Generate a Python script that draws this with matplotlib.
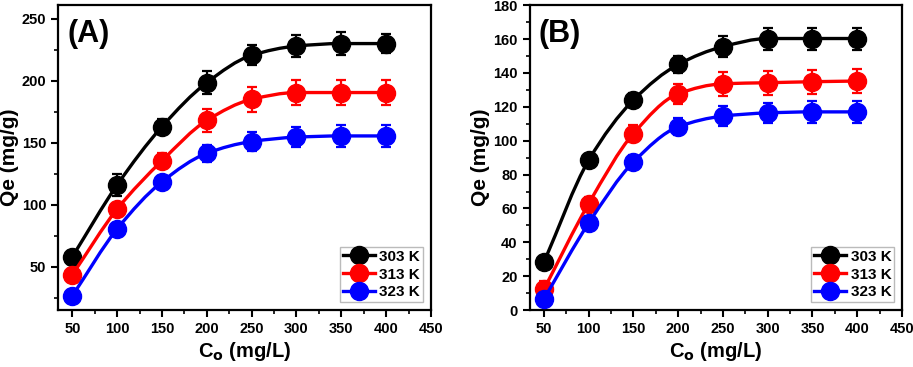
import matplotlib
matplotlib.use("Agg")
import matplotlib.pyplot as plt
import numpy as np
from matplotlib.lines import Line2D
from matplotlib.patches import PathPatch
from matplotlib.path import Path
from matplotlib.ticker import MultipleLocator

plt.rcParams["font.family"] = ["Liberation Sans", "DejaVu Sans"]
plt.rcParams["font.weight"] = "bold"

# -----------------------------
# Data
# -----------------------------

C0 = [50, 100, 150, 200, 250, 300, 350, 400]
TEMPS = ["303 K", "313 K", "323 K"]
COLORS = ["black", "red", "blue"]

QE_A_303 = [58, 116, 163, 198.5, 220.5, 228, 230, 230]
QE_A_313 = [43.5, 96.5, 135.5, 168, 185, 190.5, 190.5, 190.5]
QE_A_323 = [26.5, 80.5, 118.5, 141.5, 151, 154.5, 155.5, 155.5]
ERR_A_303 = [5, 9, 6, 9, 8, 9, 9, 8]
ERR_A_313 = [5, 4, 6, 9, 10, 10, 10, 10]
ERR_A_323 = [3, 5, 5, 7, 8, 8, 9, 9]

QE_B_303 = [28.2, 88.4, 124, 145, 155.5, 160.3, 160.3, 160.3]
QE_B_313 = [12.2, 62.8, 104.2, 127.7, 133.6, 134.2, 134.8, 135.2]
QE_B_323 = [6.5, 51.3, 87.4, 108.2, 114.5, 116.4, 117, 117]
ERR_B_303 = [2, 3, 4, 5, 6, 6.5, 6.5, 6.5]
ERR_B_313 = [5, 4, 5, 6, 7, 7, 7, 7]
ERR_B_323 = [3, 4, 4, 5, 6, 6, 6.5, 6.5]


def smooth_path(x, y):
    # monotone cubic (Fritsch-Carlson) drawn as Bezier segments
    x = np.asarray(x, float)
    y = np.asarray(y, float)
    h = np.diff(x)
    d = np.diff(y) / h
    m = np.zeros_like(y)
    m[0], m[-1] = d[0], d[-1]
    for i in range(1, len(x) - 1):
        if d[i - 1] * d[i] <= 0:
            m[i] = 0
        else:
            w1 = 2 * h[i] + h[i - 1]
            w2 = h[i] + 2 * h[i - 1]
            m[i] = (w1 + w2) / (w1 / d[i - 1] + w2 / d[i])
    verts = [(x[0], y[0])]
    codes = [Path.MOVETO]
    for i in range(len(x) - 1):
        verts += [(x[i] + h[i] / 3, y[i] + m[i] * h[i] / 3),
                  (x[i + 1] - h[i] / 3, y[i + 1] - m[i + 1] * h[i] / 3),
                  (x[i + 1], y[i + 1])]
        codes += [Path.CURVE4] * 3
    return Path(verts, codes)


def draw_panel(ax, series, errors, ylim, ymajor, yminor, label):
    for k, (qe, err, color) in enumerate(zip(series, errors, COLORS)):
        ax.add_patch(PathPatch(smooth_path(C0, qe), fill=False, edgecolor=color,
                               lw=2.4, zorder=2 + 2 * k))
        ax.errorbar(C0, qe, yerr=err, fmt="o", color=color, ms=13, ecolor=color,
                    elinewidth=1.6, capsize=3.5, capthick=1.6, zorder=3 + 2 * k)
    ax.set_xlim(34, 450)
    ax.set_ylim(*ylim)
    ax.xaxis.set_major_locator(MultipleLocator(50))
    ax.xaxis.set_minor_locator(MultipleLocator(25))
    ax.yaxis.set_major_locator(MultipleLocator(ymajor))
    ax.yaxis.set_minor_locator(MultipleLocator(yminor))
    ax.tick_params(which="major", direction="out", length=5, width=1.5, labelsize=10.5)
    ax.tick_params(which="minor", direction="out", length=3, width=1.2)
    for lab in ax.get_xticklabels() + ax.get_yticklabels():
        lab.set_fontweight("bold")
    for sp in ax.spines.values():
        sp.set_linewidth(1.6)
    ax.set_xlabel(r"C$_\mathbf{o}$ (mg/L)", fontsize=14.5, fontweight="bold", labelpad=3)
    ax.set_ylabel("Qe (mg/g)", fontsize=15, fontweight="bold", labelpad=2)
    ax.text(0.025, 0.955, label, transform=ax.transAxes, fontsize=22,
            fontweight="bold", va="top", ha="left")
    handles = [Line2D([], [], color=c, lw=2.4, marker="o", ms=13) for c in COLORS]
    leg = ax.legend(handles, TEMPS, loc="lower right", frameon=True,
                    fancybox=False, edgecolor="#aaaaaa", handlelength=2.1,
                    borderpad=0.2, labelspacing=0.25, handletextpad=0.3,
                    borderaxespad=0.5, prop={"weight": "bold", "size": 11})
    leg.get_frame().set_linewidth(1.0)


fig = plt.figure(figsize=(9.13, 3.67), dpi=100)
ax_a = fig.add_axes([0.0635, 0.155, 0.4085, 0.831])
ax_b = fig.add_axes([0.580, 0.155, 0.408, 0.831])

draw_panel(ax_a, [QE_A_303, QE_A_313, QE_A_323], [ERR_A_303, ERR_A_313, ERR_A_323],
           (15, 261), 50, 25, "(A)")
draw_panel(ax_b, [QE_B_303, QE_B_313, QE_B_323], [ERR_B_303, ERR_B_313, ERR_B_323],
           (0, 180), 20, 10, "(B)")

fig.savefig("out.png", dpi=100)
